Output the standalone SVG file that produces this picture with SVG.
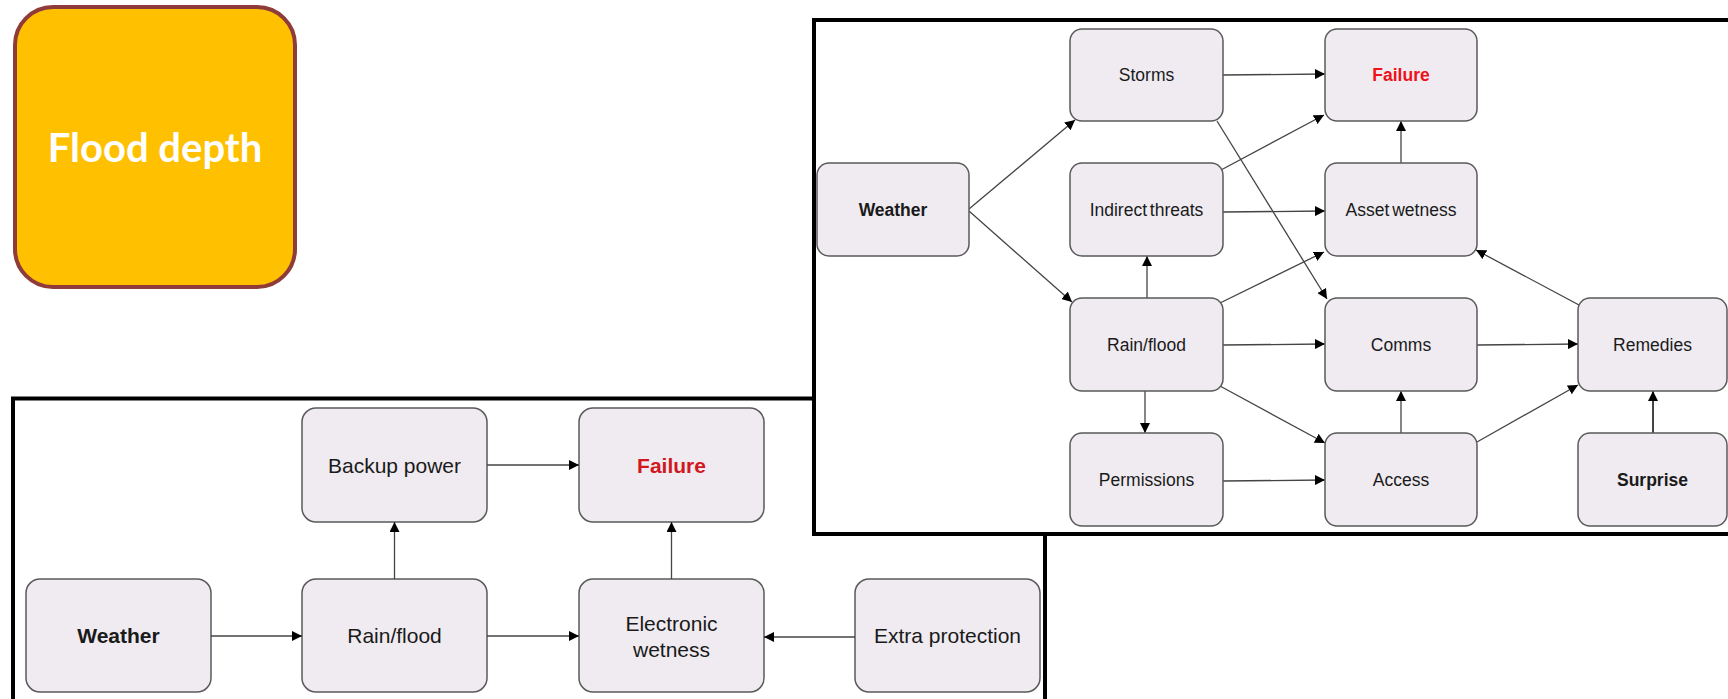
<svg xmlns="http://www.w3.org/2000/svg" width="1728" height="699" viewBox="0 0 1728 699">
  <style>
    .frame { fill: #ffffff; stroke: #000000; stroke-width: 4; }
    .box { fill: #EFEBF1; stroke: #5a5a5a; stroke-width: 1.5; }
    .lbl { font-family: "Liberation Sans", Arial, sans-serif; fill: #1a1a1a; text-anchor: middle; }
    .top { font-size: 17.5px; }
    .bot { font-size: 21px; }
    .bold { font-weight: bold; }
    .fail { fill: #EE1118; font-weight: bold; }
    .edge { fill: none; stroke: #444444; stroke-width: 1.3; marker-end: url(#arrow); }
  </style>
  <defs>
    <marker id="arrow" markerUnits="userSpaceOnUse" markerWidth="10" markerHeight="10" viewBox="0 0 10 10" refX="10" refY="5" orient="auto">
      <path d="M0,0 L10,5 L0,10 z" fill="#000000"/>
    </marker>
  </defs>

  <rect width="1728" height="699" fill="#ffffff"/>

  <!-- Flood depth badge -->
  <g id="flood-depth">
    <rect x="15" y="7" width="280" height="280" rx="38" fill="#FFC000" stroke="#8E3B3A" stroke-width="4"/>
    <text x="155" y="162" font-family="Lato, 'Open Sans', sans-serif" font-weight="bold" font-size="40" fill="#ffffff" text-anchor="middle">Flood depth</text>
  </g>

  <!-- Lower panel: electronics -->
  <g id="panel-electronics">
    <rect class="frame" x="13" y="398.5" width="1032" height="400"/>
  </g>
  <g id="bottom-nodes">
    <g id="b-weather"><rect class="box" x="26" y="579" width="185" height="113" rx="14"/><text class="lbl bot bold" x="118.5" y="643">Weather</text></g>
    <g id="b-rainflood"><rect class="box" x="302" y="579" width="185" height="113" rx="14"/><text class="lbl bot" x="394.5" y="643">Rain/flood</text></g>
    <g id="b-electronic-wetness"><rect class="box" x="579" y="579" width="185" height="113" rx="14"/><text class="lbl bot" x="671.5" y="631">Electronic</text><text class="lbl bot" x="671.5" y="657">wetness</text></g>
    <g id="b-extra-protection"><rect class="box" x="855" y="579" width="185" height="113" rx="14"/><text class="lbl bot" x="947.5" y="643">Extra protection</text></g>
    <g id="b-backup-power"><rect class="box" x="302" y="408" width="185" height="114" rx="14"/><text class="lbl bot" x="394.5" y="472.5">Backup power</text></g>
    <g id="b-failure"><rect class="box" x="579" y="408" width="185" height="114" rx="14"/><text class="lbl bot fail" x="671.5" y="472.5" style="fill:#D2181E">Failure</text></g>
  </g>
  <g id="bottom-connectors">
    <path class="edge" d="M211,636 L302,636"/>
    <path class="edge" d="M394.5,579 L394.5,522"/>
    <path class="edge" d="M487,465 L579,465"/>
    <path class="edge" d="M487,636 L579,636"/>
    <path class="edge" d="M671.5,579 L671.5,522"/>
    <path class="edge" d="M855,637 L764,637"/>
  </g>

  <!-- Upper panel: asset network -->
  <g id="panel-asset">
    <rect class="frame" x="814" y="20" width="1000" height="514"/>
  </g>
  <g id="top-connectors">
    <path class="edge" d="M969,209 L1075,120"/>
    <path class="edge" d="M969,211 L1072,302"/>
    <path class="edge" d="M1223,75 L1325,74"/>
    <path class="edge" d="M1217,121 L1327,299"/>
    <path class="edge" d="M1221,170 L1324,115"/>
    <path class="edge" d="M1223,212 L1325,211"/>
    <path class="edge" d="M1401,163 L1401,121"/>
    <path class="edge" d="M1147,298 L1147,256"/>
    <path class="edge" d="M1220,303 L1324,252"/>
    <path class="edge" d="M1223,345 L1325,344"/>
    <path class="edge" d="M1145,391 L1145,433"/>
    <path class="edge" d="M1220,386 L1325,443"/>
    <path class="edge" d="M1223,481 L1325,480"/>
    <path class="edge" d="M1401,433 L1401,391"/>
    <path class="edge" d="M1477,345 L1578,344"/>
    <path class="edge" d="M1477,442 L1578,385"/>
    <path class="edge" d="M1579,305 L1476,250"/>
    <path class="edge" d="M1653,433 L1653,391" style="stroke-width:2"/>
  </g>
  <g id="top-nodes">
    <g id="t-weather"><rect class="box" x="817" y="163" width="152" height="93" rx="12"/><text class="lbl top bold" x="893" y="215.5">Weather</text></g>
    <g id="t-storms"><rect class="box" x="1070" y="29" width="153" height="92" rx="12"/><text class="lbl top" x="1146.5" y="81">Storms</text></g>
    <g id="t-failure"><rect class="box" x="1325" y="29" width="152" height="92" rx="12"/><text class="lbl top fail" x="1401" y="81">Failure</text></g>
    <g id="t-indirect-threats"><rect class="box" x="1070" y="163" width="153" height="93" rx="12"/><text class="lbl top" x="1146.5" y="215.5" word-spacing="-2">Indirect threats</text></g>
    <g id="t-asset-wetness"><rect class="box" x="1325" y="163" width="152" height="93" rx="12"/><text class="lbl top" x="1401" y="215.5" word-spacing="-2">Asset wetness</text></g>
    <g id="t-rainflood"><rect class="box" x="1070" y="298" width="153" height="93" rx="12"/><text class="lbl top" x="1146.5" y="350.5">Rain/flood</text></g>
    <g id="t-comms"><rect class="box" x="1325" y="298" width="152" height="93" rx="12"/><text class="lbl top" x="1401" y="350.5">Comms</text></g>
    <g id="t-remedies"><rect class="box" x="1578" y="298" width="149" height="93" rx="12"/><text class="lbl top" x="1652.5" y="350.5">Remedies</text></g>
    <g id="t-permissions"><rect class="box" x="1070" y="433" width="153" height="93" rx="12"/><text class="lbl top" x="1146.5" y="485.5">Permissions</text></g>
    <g id="t-access"><rect class="box" x="1325" y="433" width="152" height="93" rx="12"/><text class="lbl top" x="1401" y="485.5">Access</text></g>
    <g id="t-surprise"><rect class="box" x="1578" y="433" width="149" height="93" rx="12"/><text class="lbl top bold" x="1652.5" y="485.5">Surprise</text></g>
  </g>
</svg>
